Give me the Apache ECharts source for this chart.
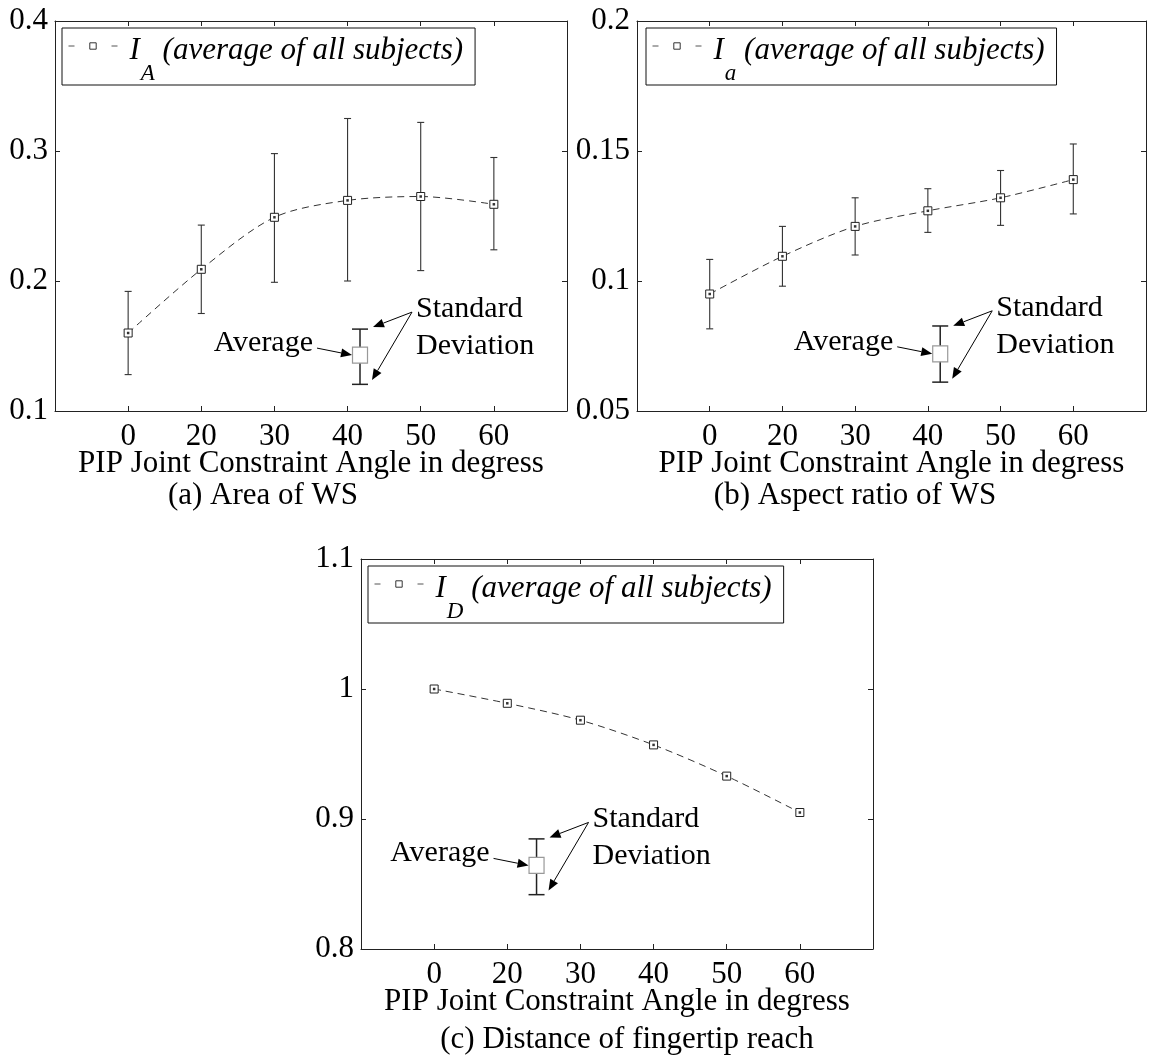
<!DOCTYPE html>
<html>
<head>
<meta charset="utf-8">
<script src="https://cdn.jsdelivr.net/npm/echarts@6/dist/echarts.min.js"></script>
<style>
html,body{margin:0;padding:0;background:#fff;}
#chart{width:1149px;height:1061px;}
</style>
</head>
<body>
<div id="chart"></div>
<script>
// ---------- data ----------
const angles = [0, 20, 30, 40, 50, 60];

const areaMean = [0.160, 0.209, 0.249, 0.262, 0.265, 0.259];
const areaLow  = [0.128, 0.175, 0.199, 0.200, 0.208, 0.224];
const areaHigh = [0.192, 0.243, 0.298, 0.325, 0.322, 0.295];

const aspectMean = [0.095, 0.1095, 0.121, 0.127, 0.132, 0.139];
const aspectLow  = [0.0816, 0.098, 0.110, 0.1187, 0.1214, 0.1258];
const aspectHigh = [0.1083, 0.121, 0.132, 0.1355, 0.1425, 0.1527];

const reachMean = [1.000, 0.989, 0.976, 0.957, 0.933, 0.905];
const reachLow  = [0.9995, 0.9875, 0.9745, 0.9550, 0.9305, 0.9025];
const reachHigh = [1.0005, 0.9905, 0.9775, 0.9590, 0.9355, 0.9075];

// key glyph (position on axis, average, low, high)
const keyA = [4.17, 0.143, 0.1205, 0.163];
const keyB = [4.17, 0.072, 0.0611, 0.0827];
const keyC = [2.40, 0.8643, 0.8418, 0.8847];

const yTicksA = [0.1, 0.4, 0.1];
const yTicksB = [0.05, 0.2, 0.05];
const yTicksC = [0.8, 1.1, 0.1];

const xTitle = 'PIP Joint Constraint Angle in degress';
const captions = ['(a) Area of WS', '(b) Aspect ratio of WS', '(c) Distance of fingertip reach'];
const legendSubs = ['A', 'a', 'D'];
const legendTail = ' (average of all subjects)';

// ---------- layout ----------
const FONT = '"Liberation Serif", "Times New Roman", serif';
const AX = '#222';
const panels = [
  {mean: areaMean, low: areaLow, high: areaHigh, key: keyA, yt: yTicksA,
   grid: {left: 55, top: 21, width: 512, height: 390}, legend: {left: 62, top: 28},
   cap: {x: 263, y: 496}},
  {mean: aspectMean, low: aspectLow, high: aspectHigh, key: keyB, yt: yTicksB,
   grid: {left: 637, top: 21, width: 511, height: 390}, legend: {left: 646, top: 28},
   cap: {x: 855, y: 496}},
  {mean: reachMean, low: reachLow, high: reachHigh, key: keyC, yt: yTicksC,
   grid: {left: 361, top: 559, width: 512, height: 390}, legend: {left: 368, top: 566},
   cap: {x: 627, y: 1040}}
];

function errRender(params, api) {
  const x = api.value(0);
  const p1 = api.coord([x, api.value(1)]);
  const p2 = api.coord([x, api.value(2)]);
  const w = 3.5;
  const st = {stroke: '#333', lineWidth: 1.1};
  return {type: 'group', children: [
    {type: 'line', shape: {x1: p1[0], y1: p1[1], x2: p2[0], y2: p2[1]}, style: st},
    {type: 'line', shape: {x1: p1[0] - w, y1: p1[1], x2: p1[0] + w, y2: p1[1]}, style: st},
    {type: 'line', shape: {x1: p2[0] - w, y1: p2[1], x2: p2[0] + w, y2: p2[1]}, style: st}
  ]};
}

function arrow(x1, y1, x2, y2) {
  const dx = x2 - x1, dy = y2 - y1;
  const L = Math.sqrt(dx * dx + dy * dy);
  const ux = dx / L, uy = dy / L;
  const hl = 11, hw = 4.5;
  const bx = x2 - ux * hl, by = y2 - uy * hl;
  return [
    {type: 'line', shape: {x1: x1, y1: y1, x2: bx, y2: by}, style: {stroke: '#000', lineWidth: 1}},
    {type: 'polygon', shape: {points: [[x2, y2], [bx - uy * hw, by + ux * hw], [bx + uy * hw, by - ux * hw]]},
     style: {fill: '#000'}}
  ];
}

function keyRender(params, api) {
  const xv = api.value(0);
  const c = api.coord([xv, api.value(1)]);
  const lo = api.coord([xv, api.value(2)]);
  const hi = api.coord([xv, api.value(3)]);
  const x = c[0], y = c[1];
  const st = {stroke: '#222', lineWidth: 1.5};
  const w = 8;
  const txt = (t, tx, ty, align) => ({type: 'text', x: tx, y: ty,
    style: {text: t, fontSize: 30, fontFamily: FONT, fill: '#000', align: align, verticalAlign: 'middle'}});
  let ch = [
    {type: 'line', shape: {x1: x, y1: hi[1], x2: x, y2: lo[1]}, style: st},
    {type: 'line', shape: {x1: x - w, y1: hi[1], x2: x + w, y2: hi[1]}, style: st},
    {type: 'line', shape: {x1: x - w, y1: lo[1], x2: x + w, y2: lo[1]}, style: st},
    {type: 'rect', shape: {x: x - 7.5, y: y - 8, width: 15, height: 16}, style: {fill: '#fff', stroke: '#999', lineWidth: 1.2}},
    txt('Average', x - 47, y - 12, 'right'),
    txt('Standard', x + 56, y - 46, 'left'),
    txt('Deviation', x + 56, y - 9, 'left')
  ];
  ch = ch.concat(arrow(x - 43, y - 7, x - 8, y));
  ch = ch.concat(arrow(x + 52, y - 43, x + 13, y - 28));
  ch = ch.concat(arrow(x + 52, y - 43, x + 12, y + 25));
  return {type: 'group', children: ch};
}

const grids = [], xAxes = [], yAxes = [], series = [], legends = [], graphics = [];

panels.forEach((p, g) => {
  grids.push(Object.assign({containLabel: false}, p.grid));
  const tick = {inside: true, length: 5, lineStyle: {color: AX, width: 1}};
  const line = {show: true, onZero: false, lineStyle: {color: AX, width: 1}};
  xAxes.push({
    type: 'value', gridIndex: g, position: 'bottom', min: 0, max: 7, interval: 1,
    axisLine: line, axisTick: tick, splitLine: {show: false},
    axisLabel: {fontSize: 31, fontFamily: FONT, color: '#000', margin: 10,
      formatter: v => (v >= 1 && v <= angles.length) ? String(angles[v - 1]) : ''},
    name: xTitle, nameLocation: 'middle', nameGap: 37, nameMoveOverlap: false,
    nameTextStyle: {fontSize: 31, fontFamily: FONT, color: '#000', verticalAlign: 'top'}
  });
  xAxes.push({
    type: 'value', gridIndex: g, position: 'top', min: 0, max: 7, interval: 1,
    axisLine: line, axisTick: tick, splitLine: {show: false}, axisLabel: {show: false}
  });
  yAxes.push({
    type: 'value', gridIndex: g, position: 'left', min: p.yt[0], max: p.yt[1], interval: p.yt[2],
    axisLine: line, axisTick: tick, splitLine: {show: false},
    axisLabel: {fontSize: 31, fontFamily: FONT, color: '#000', margin: 7}
  });
  yAxes.push({
    type: 'value', gridIndex: g, position: 'right', min: p.yt[0], max: p.yt[1], interval: p.yt[2],
    axisLine: line, axisTick: tick, splitLine: {show: false}, axisLabel: {show: false}
  });

  const name = 'I' + legendSubs[g];
  const xi = 2 * g, yi = 2 * g;
  series.push({
    type: 'custom', xAxisIndex: xi, yAxisIndex: yi, renderItem: errRender, z: 2, silent: true,
    data: angles.map((a, i) => [i + 1, p.low[i], p.high[i]]),
    encode: {x: 0, y: [1, 2]}
  });
  series.push({
    type: 'line', name: name, xAxisIndex: xi, yAxisIndex: yi, z: 3,
    data: angles.map((a, i) => [i + 1, p.mean[i]]),
    smooth: 0.3, symbol: 'rect', symbolSize: 8,
    lineStyle: {type: [7, 5], width: 1, color: '#333'},
    itemStyle: {color: '#fff', borderColor: '#222', borderWidth: 1},
    emphasis: {disabled: true}
  });
  series.push({
    type: 'scatter', xAxisIndex: xi, yAxisIndex: yi, z: 4, silent: true,
    data: angles.map((a, i) => [i + 1, p.mean[i]]),
    symbol: 'rect', symbolSize: 2.5, itemStyle: {color: '#000'}
  });
  series.push({
    type: 'custom', xAxisIndex: xi, yAxisIndex: yi, renderItem: keyRender, z: 5, silent: true,
    data: [p.key], encode: {x: 0, y: [1, 2, 3]}
  });

  legends.push({
    data: [name], left: p.legend.left, top: p.legend.top, orient: 'horizontal',
    backgroundColor: '#fff', borderColor: '#111', borderWidth: 1, borderRadius: 0,
    padding: [0, 12, 0, 6], itemWidth: 49, itemHeight: 8, selectedMode: false,
    lineStyle: {type: [6, 37], width: 1, color: '#555'},
    itemStyle: {color: '#fff', borderColor: '#333', borderWidth: 1},
    formatter: () => '{i|I}{s|' + legendSubs[g] + '}{t|' + legendTail + '}',
    textStyle: {
      rich: {
        i: {fontFamily: FONT, fontStyle: 'italic', fontSize: 31, lineHeight: 36, verticalAlign: 'top', padding: [7, 0, 0, 7], color: '#000'},
        s: {fontFamily: FONT, fontStyle: 'italic', fontSize: 23, lineHeight: 22, verticalAlign: 'top', padding: [34, 0, 0, 1], color: '#000'},
        t: {fontFamily: FONT, fontStyle: 'italic', fontSize: 31, lineHeight: 36, verticalAlign: 'top', padding: [7, 0, 0, 0], color: '#000'}
      }
    }
  });

  graphics.push({
    type: 'text', x: p.cap.x, y: p.cap.y,
    style: {text: captions[g], fontSize: 31, fontFamily: FONT, fill: '#000', align: 'center', verticalAlign: 'middle'}
  });
});

const chart = echarts.init(document.getElementById('chart'), null, {renderer: 'canvas'});
chart.setOption({
  animation: false,
  backgroundColor: '#fff',
  grid: grids,
  xAxis: xAxes,
  yAxis: yAxes,
  legend: legends,
  series: series,
  graphic: graphics
});
</script>
</body>
</html>
